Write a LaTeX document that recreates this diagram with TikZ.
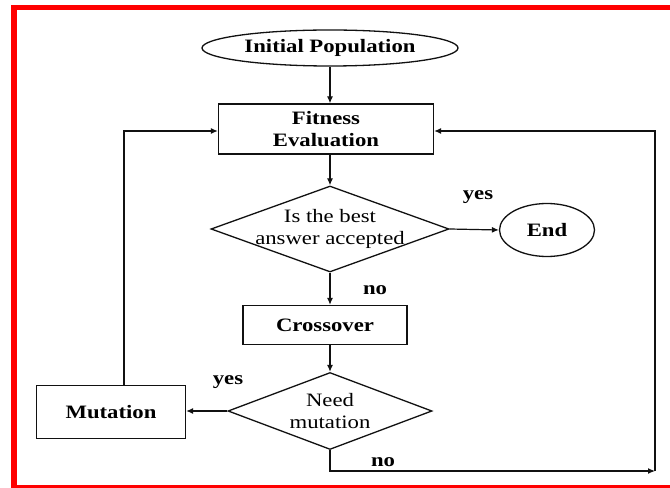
\documentclass[tikz,border=0pt]{standalone}
\usepackage{fontspec}
\setmainfont{Liberation Serif}[FakeStretch=1.2]
\usepackage{xcolor}
\usetikzlibrary{arrows.meta,shapes.geometric}
\definecolor{gaink}{HTML}{111111}
\definecolor{gaframe}{HTML}{FF0000}

\begin{document}
\begin{tikzpicture}[
  x=1bp, y=-1bp,
  font=\fontsize{19}{22.8}\selectfont, >={Latex[length=7bp,width=6bp]},
  box/.style={draw=gaink, line width=1.3bp, rectangle, inner sep=0pt, align=center, font=\fontsize{19}{22.8}\selectfont\bfseries},
  term/.style={box, ellipse},
  decision/.style={draw=gaink, line width=1.3bp, diamond, inner sep=0pt},
  qtext/.style={align=center, inner sep=0pt},
  ans/.style={inner sep=0pt, font=\fontsize{19}{22.8}\selectfont\bfseries},
  wire/.style={->, line width=1.2bp, gaink},
  frame/.style={draw=gaframe, line width=5.5bp},
]
  \clip (0,0) rectangle (670,488);
  \fill[white] (0,0) rectangle (670,488);
  \draw[frame] (13.8,7.3) rectangle (720,487.8);

  \node[term, minimum width=256bp, minimum height=36bp] (init) at (330,48) {Initial Population};
  \node[box, minimum width=215bp, minimum height=50bp] (fit) at (326,129) {Fitness\\ Evaluation};
  \node[decision, minimum width=238bp, minimum height=86bp, label={[qtext]center:Is the best\\answer accepted}] (dec1) at (330,229) {};
  \node[term, minimum width=95bp, minimum height=53bp] (end) at (547,230) {End};
  \node[box, minimum width=164bp, minimum height=39bp] (cross) at (325,325) {Crossover};
  \node[decision, minimum width=204bp, minimum height=77bp, label={[qtext]center:Need\\mutation}] (dec2) at (330,411) {};
  \node[box, minimum width=149bp, minimum height=53bp] (mut) at (111,412) {Mutation};

  \node[ans] (yes1) at (478,197) {yes};
  \node[ans] (no1) at (375,290) {no};
  \node[ans] (yes2) at (228,382) {yes};
  \node[ans] (no2) at (383,462) {no};

  \coordinate (cnr) at (655,471);

  \draw[wire] (init.south) -- (init.south |- fit.north);
  \draw[wire] (fit.south -| dec1.north) -- (dec1.north);
  \draw[wire] (dec1.east) -- (end.west);
  \draw[wire] (dec1.south) -- (dec1.south |- cross.north);
  \draw[wire] (cross.south -| dec2.north) -- (dec2.north);
  \draw[wire] (dec2.west) -- (dec2.west -| mut.east);
  \draw[wire] ([xshift=13bp]mut.north) |- ([yshift=-2bp]fit.west);
  \draw[wire] (dec2.south) |- (cnr);
  \draw[wire] (cnr) |- ([yshift=-2bp]fit.east);
\end{tikzpicture}
\end{document}
